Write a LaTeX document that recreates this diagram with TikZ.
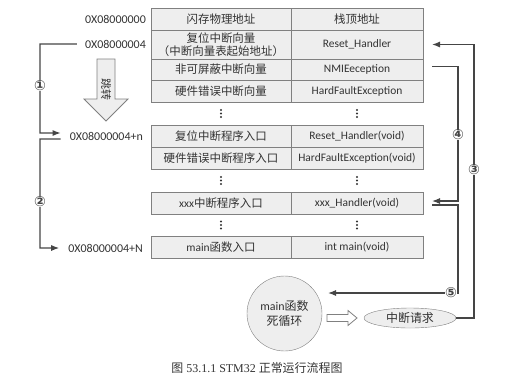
\documentclass[tikz,border=0pt]{standalone}
\usepackage{fontspec}
\setmainfont{Liberation Serif}
\newfontfamily\cjkfont{Noto Sans CJK SC}
\newfontfamily\latfont{Carlito}
\newfontfamily\circfont{DejaVu Sans}
\usetikzlibrary{arrows.meta, positioning, shapes.geometric}
\definecolor{cellfill}{HTML}{EEEEEE}
\definecolor{cellline}{HTML}{808080}
\definecolor{txt}{HTML}{333333}
\definecolor{linecol}{HTML}{454545}

\begin{document}
\begin{tikzpicture}[x=1bp, y=-1bp]
    \def\colL{221}
    \def\colR{357}
    \def\railL{40}

    \tikzstyle{cell} = [draw=cellline, fill=cellfill, inner sep=0pt, outer sep=0pt, align=center, text=txt]
    \tikzstyle{lcell} = [cell, minimum width=140bp, font=\cjkfont\fontsize{11.5}{13.5}\selectfont]
    \tikzstyle{rcell} = [cell, minimum width=132bp, font=\latfont\fontsize{11.5}{13}\selectfont]
    \tikzstyle{addr} = [anchor=east, inner sep=0pt, text=txt, font=\latfont\fontsize{12}{14}\selectfont]
    \tikzstyle{conn} = [draw=linecol, line width=1.1bp]
    \tikzstyle{tip} = [-{Latex[length=8bp, width=6bp]}]
    \tikzstyle{num} = [fill=white, inner sep=0.4bp, text=linecol, font=\circfont\bfseries\fontsize{14}{14}\selectfont]
    \tikzstyle{hollow} = [draw=cellline, line width=0.8bp]

    \useasboundingbox (0,0) rectangle (515,388);

    % vector table and program rows: index/top/height/left/right
    \foreach \i/\t/\h/\lt/\rt in {
        1/8/22/{闪存物理地址}/{\cjkfont 栈顶地址},
        2/30/29/{复位中断向量\\（中断向量表起始地址）}/{Reset\_Handler},
        3/59/21/{非可屏蔽中断向量}/{NMIEeception},
        4/80/22/{硬件错误中断向量}/{HardFaultException},
        5/125/22/{复位中断程序入口}/{Reset\_Handler(void)},
        6/147/22/{硬件错误中断程序入口}/{HardFaultException(void)},
        7/192/22/{{\latfont xxx}中断程序入口}/{xxx\_Handler(void)},
        8/236/22/{{\latfont main}函数入口}/{int main(void)}} {
        \node (l-\i) [lcell, minimum height=\h bp] at (\colL, \t+\h/2) {\lt};
        \node (r-\i) [rcell, minimum height=\h bp] at (\colR, \t+\h/2) {\rt};
    }

    % gaps in the table
    \foreach \y in {113.5,180.5,225} {
        \foreach \x in {\colL,\colR} {
            \foreach \d in {-3.5,0,3.5}
                \fill [txt] (\x, \y+\d) circle (1.1bp);
        }
    }

    % addresses
    \node (a-0) [addr] at (146, 19) {0X08000000};
    \node (a-1) [addr] at (146, 44) {0X08000004};
    \node (a-n) [addr] at (143, 136) {0X08000004+n};
    \node (a-N) [addr] at (143, 248) {0X08000004+N};

    % jump arrow
    \draw [hollow, fill=cellfill] (97,59) -- (115,59) -- (115,99) -- (128,99)
        -- (106,121) -- (84,99) -- (97,99) -- cycle;
    \node (jump) [rotate=-90, text=txt, font=\cjkfont\fontsize{11}{11}\selectfont] at (106, 89) {跳转};

    % main loop and interrupt request
    \node (main) [circle, draw=cellline, fill=cellfill, minimum size=75bp, align=center,
        text=txt, font=\cjkfont\fontsize{12}{16}\selectfont] at (284.5, 313.5) {{\latfont main}函数\\死循环};
    \draw [hollow, fill=white] (327,314.5) -- (348,314.5) -- (348,310.5) -- (357,318)
        -- (348,325.5) -- (348,321.5) -- (327,321.5) -- cycle;
    \node (irq) [ellipse, draw=cellline, fill=cellfill, minimum width=92bp, minimum height=20bp,
        inner sep=0pt, text=txt, font=\cjkfont\fontsize{12}{13}\selectfont] at (410, 318) {中断请求};

    % left connectors
    \coordinate (j-1) at (\railL, 44);
    \coordinate (j-2) at (\railL, 133);
    \coordinate (j-3) at (\railL, 139);
    \coordinate (j-4) at (\railL, 248);
    \draw [conn, tip] ([xshift=-8bp]a-1.west) -- (j-1) -- (j-2) -- ([xshift=-9bp, yshift=3bp]a-n.west);
    \draw [conn, tip] ([xshift=-9bp, yshift=-3bp]a-n.west) -- (j-3) -- (j-4) -- ([xshift=-9bp]a-N.west);
    \node (n-1) [num] at (\railL, 86) {①};
    \node (n-2) [num] at (\railL, 202) {②};

    % right connectors
    \coordinate (rail-3) at (474, 44.5);
    \coordinate (rail-4) at (458, 150);
    \coordinate (rail-5) at (458, 293);
    \coordinate (loop-in) at (328, 293);
    \draw [conn, tip] (irq.east) -| (rail-3) -- ([xshift=9bp]r-2.east);
    \draw [conn, tip] ([xshift=9bp, yshift=3bp]r-3.east) -| (rail-4) |- ([xshift=9bp, yshift=2bp]r-7.east);
    \draw [conn, tip] ([xshift=9bp, yshift=-2bp]r-7.east) -| (rail-5) -- (loop-in);
    \node (n-3) [num] at (474, 170) {③};
    \node (n-4) [num] at (458, 135) {④};
    \node (n-5) [num] at (451, 293) {⑤};

    % caption
    \node (caption) [text=txt, font=\fontsize{12}{14}\selectfont] at (257, 368)
        {{\cjkfont 图} 53.1.1 STM32 {\cjkfont 正常运行流程图}};
\end{tikzpicture}
\end{document}
